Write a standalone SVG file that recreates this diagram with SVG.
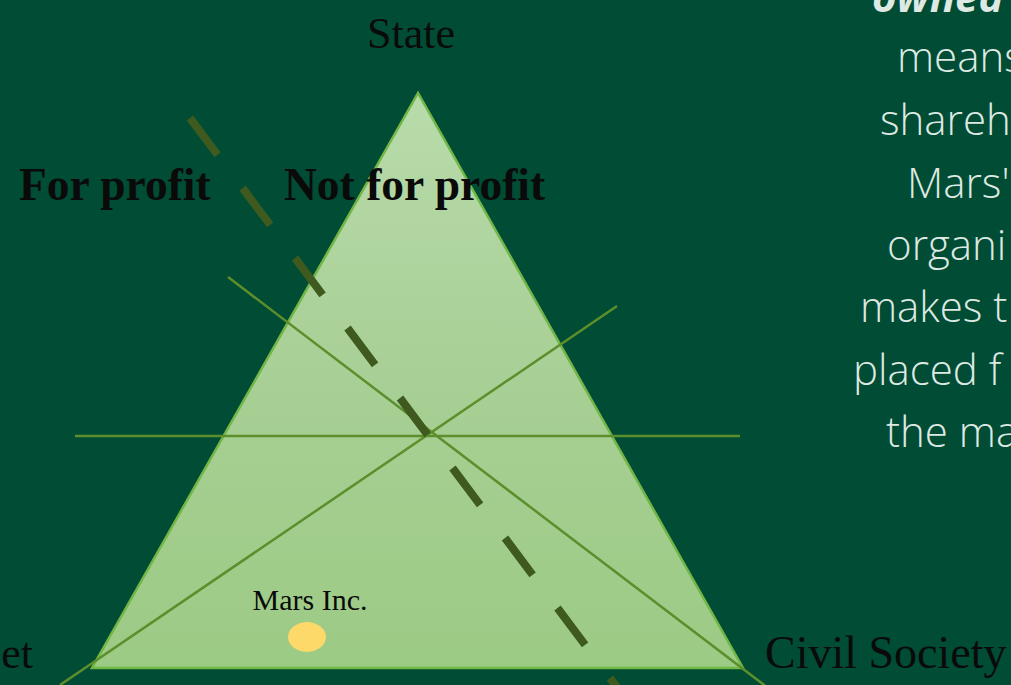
<svg xmlns="http://www.w3.org/2000/svg" width="1011" height="685" viewBox="0 0 1011 685">
<style>
.lbl{font-family:"Liberation Serif","Times New Roman",serif;fill:#0a0a0a}
.big{font-size:44px}
.bold{font-weight:bold;font-size:45.5px}
.side{font-family:"Open Sans","Liberation Sans",sans-serif;font-weight:300;font-size:42px;fill:#dde9e2}
.side-em{font-weight:bold;font-style:italic}
.axis{stroke:#5c8f2c;stroke-width:2.5;fill:none}
.divider{stroke:#3e5a1f;stroke-width:8;stroke-dasharray:46 41.5;fill:none}
</style>
<defs>
<linearGradient id="tri" x1="0" y1="0" x2="0" y2="1">
<stop offset="0" stop-color="#b8dbab"/>
<stop offset="0.5" stop-color="#a8cf95"/>
<stop offset="1" stop-color="#9ccb85"/>
</linearGradient>
</defs>
<rect x="0" y="0" width="1011" height="685" fill="#014c34"/>
<g id="triangle">
<polygon points="418,93 92,668 743,668" fill="url(#tri)" stroke="#72b746" stroke-width="2.5"/>
</g>
<g id="connectors">
<line class="axis" x1="75" y1="436" x2="740" y2="436"/>
<line class="axis" x1="228" y1="277" x2="772" y2="691"/>
<line class="axis" x1="617" y1="306" x2="60" y2="685"/>
<line class="divider" x1="190" y1="118" x2="640" y2="718"/>
</g>
<g id="state"><text class="lbl big" x="411" y="48" text-anchor="middle">State</text></g>
<g id="market"><text class="lbl big" x="33" y="668" text-anchor="end">et</text></g>
<g id="civil-society"><text class="lbl" x="765" y="668" font-size="46">Civil Society</text></g>
<g id="for-profit"><text class="lbl bold" x="19" y="200">For profit</text></g>
<g id="not-for-profit"><text class="lbl bold" x="284" y="200">Not for profit</text></g>
<g id="mars">
<text class="lbl" x="310" y="610" font-size="30" text-anchor="middle">Mars Inc.</text>
<ellipse cx="307" cy="637" rx="19" ry="15" fill="#fdd96a"/>
</g>
<g id="side-text">
<text class="side side-em" x="872" y="12">owned</text>
<text class="side" x="897" y="72">means</text>
<text class="side" x="880" y="135">shareh</text>
<text class="side" x="907" y="198">Mars'</text>
<text class="side" x="887" y="260">organi</text>
<text class="side" x="860" y="322">makes t</text>
<text class="side" x="853" y="385">placed f</text>
<text class="side" x="886" y="447">the ma</text>
</g>
</svg>
